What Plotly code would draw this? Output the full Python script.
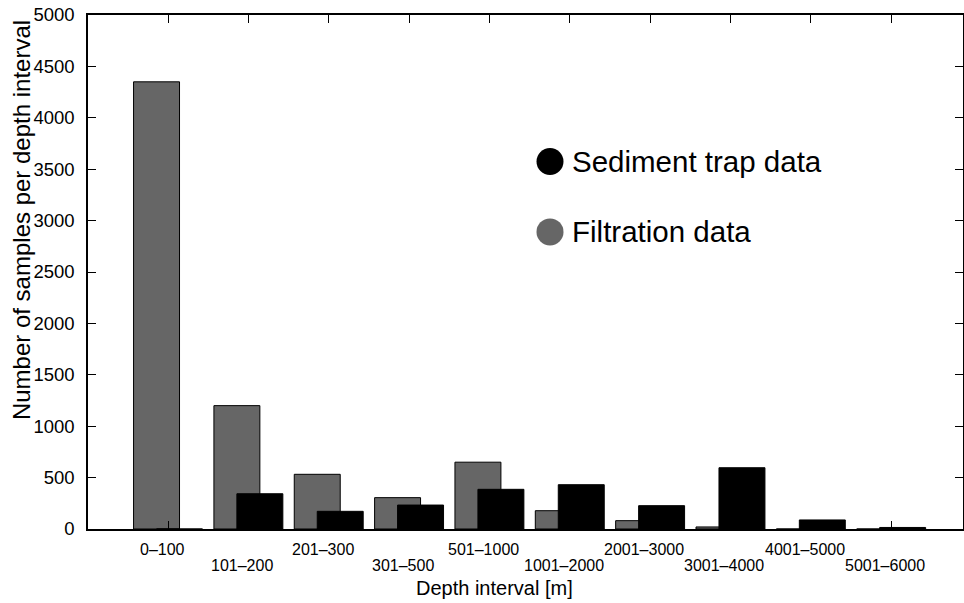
import plotly.graph_objects as go

# depth intervals [m]
depths = ["0–100", "101–200", "201–300", "301–500", "501–1000",
          "1001–2000", "2001–3000", "3001–4000", "4001–5000", "5001–6000"]
# number of samples per interval
filtration = [4350, 1200, 532, 305, 650, 178, 81, 20, 0, 0]
sediment_trap = [0, 343, 172, 233, 386, 431, 227, 596, 88, 15]

GREY = "#666666"
font = "Liberation Sans, Arial, Helvetica, sans-serif"

fig = go.Figure()
fig.add_trace(go.Bar(x=depths, y=filtration, name="Filtration data",
                     width=0.572, offset=-0.429,
                     marker=dict(color=GREY, line=dict(color="black", width=1)),
                     showlegend=False))
fig.add_trace(go.Bar(x=depths, y=sediment_trap, name="Sediment trap data",
                     width=0.572, offset=-0.143,
                     marker=dict(color="black", line=dict(color="black", width=1)),
                     showlegend=False))

# x tick labels, alternating between two rows
for i, d in enumerate(depths):
    fig.add_annotation(x=d, y=0, xref="x", yref="paper", text=d,
                       showarrow=False, xanchor="center", yanchor="middle",
                       xshift=-6, yshift=-20 if i % 2 == 0 else -36,
                       font=dict(size=16))

# axis titles (placed off-centre like the original)
fig.add_annotation(x=0.465, y=0, xref="paper", yref="paper",
                   text="Depth interval [m]", showarrow=False,
                   xanchor="center", yanchor="middle", yshift=-59,
                   font=dict(size=20))
fig.add_annotation(x=0, y=0.601, xref="paper", yref="paper",
                   text="Number of samples per depth interval", showarrow=False,
                   textangle=-90, xanchor="center", yanchor="middle", xshift=-67,
                   font=dict(size=24))

# legend drawn by hand: big dots + text
legend_items = [("Sediment trap data", "black", 0.715),
                ("Filtration data", GREY, 0.578)]
for label, col, yy in legend_items:
    fig.add_shape(type="circle", xref="paper", yref="paper",
                  xsizemode="pixel", ysizemode="pixel",
                  xanchor=0.528, yanchor=yy, x0=-13.5, x1=13.5, y0=-13.5, y1=13.5,
                  fillcolor=col, line=dict(width=0))
    fig.add_annotation(x=0.551, y=yy, xref="paper", yref="paper",
                       text=label, showarrow=False, xanchor="left", yanchor="middle",
                       font=dict(size=29.5, color="black"))

fig.update_layout(
    width=964, height=603,
    margin=dict(l=88, r=1, t=15, b=74, autoexpand=False),
    barmode="overlay",
    plot_bgcolor="white", paper_bgcolor="white",
    font=dict(family=font, color="black"),
    xaxis=dict(
        type="category", range=[-0.996, 9.894], automargin=False,
        showticklabels=False,
        ticks="inside", ticklen=8, tickcolor="black",
        showline=True, linecolor="black", linewidth=1.5, mirror="ticks",
        showgrid=False,
    ),
    yaxis=dict(
        range=[0, 5000], tickvals=list(range(0, 5001, 500)), automargin=False,
        ticks="inside", ticklen=8, tickcolor="black",
        showline=True, linecolor="black", linewidth=1.5, mirror="ticks",
        showgrid=False, zeroline=False, tickfont=dict(size=18.5),
        ticklabelstandoff=8, ticklabeloverflow="allow",
    ),
)

# drop the default body margin so the figure sits at the page corner
fig.write_html("out.html", config={"displayModeBar": False},
               post_script="document.body.style.margin = '0';")
